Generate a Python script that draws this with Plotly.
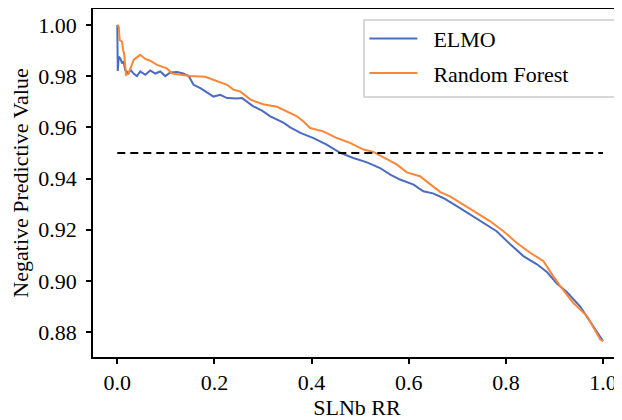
"""Negative predictive value vs SLNb RR for ELMO and Random Forest."""

import plotly.graph_objects as go

# ELMO curve
elmo_x = [0.000, 0.001, 0.003, 0.006, 0.010, 0.013, 0.016, 0.023, 0.027, 0.0335,
          0.0405, 0.0473, 0.0576, 0.0679, 0.0782, 0.0885, 0.0988, 0.109, 0.123, 0.136,
          0.147, 0.157, 0.171, 0.185, 0.198, 0.212, 0.226, 0.246, 0.257, 0.280,
          0.298, 0.315, 0.342, 0.356, 0.377, 0.404, 0.431, 0.459, 0.486, 0.514,
          0.541, 0.562, 0.582, 0.610, 0.630, 0.650, 0.671, 0.699, 0.726, 0.754,
          0.781, 0.809, 0.836, 0.864, 0.885, 0.905, 0.926, 0.953, 0.979, 0.994, 1.000]
elmo_y = [1.000, 0.982, 0.9876, 0.987, 0.985, 0.9857, 0.9825, 0.981, 0.9825, 0.981,
          0.980, 0.9818, 0.9805, 0.9822, 0.981, 0.9818, 0.980, 0.9814, 0.9816, 0.981,
          0.980, 0.9766, 0.9753, 0.9734, 0.972, 0.9727, 0.9714, 0.9712, 0.9714, 0.9682,
          0.9665, 0.9643, 0.9618, 0.960, 0.9578, 0.9558, 0.9532, 0.950, 0.948, 0.9463,
          0.9441, 0.9415, 0.9396, 0.9376, 0.935, 0.9342, 0.9324, 0.9292, 0.926, 0.9227,
          0.9194, 0.9143, 0.9097, 0.9065, 0.9034, 0.899, 0.8956, 0.890, 0.8825, 0.878, 0.8765]

# Random Forest curve
rf_x = [0.000, 0.003, 0.005, 0.010, 0.012, 0.014, 0.018, 0.023, 0.034, 0.0473,
        0.0576, 0.0679, 0.0817, 0.102, 0.113, 0.130, 0.150, 0.181, 0.205, 0.226,
        0.239, 0.253, 0.274, 0.300, 0.329, 0.350, 0.370, 0.385, 0.397, 0.424,
        0.452, 0.479, 0.507, 0.527, 0.555, 0.576, 0.596, 0.623, 0.644, 0.665,
        0.685, 0.713, 0.740, 0.767, 0.795, 0.822, 0.850, 0.877, 0.897, 0.912,
        0.938, 0.967, 0.994, 1.000]
rf_y = [1.000, 0.9993, 0.994, 0.9935, 0.990, 0.989, 0.9805, 0.981, 0.9864, 0.9883,
        0.9867, 0.986, 0.9844, 0.983, 0.981, 0.9805, 0.980, 0.9797, 0.978, 0.9766,
        0.9747, 0.974, 0.9708, 0.969, 0.968, 0.966, 0.9643, 0.962, 0.9597, 0.9584,
        0.9558, 0.9539, 0.9513, 0.9504, 0.9474, 0.9454, 0.9424, 0.9409, 0.9378, 0.9347,
        0.933, 0.9298, 0.9266, 0.9234, 0.9194, 0.9149, 0.911, 0.9078, 0.902, 0.898,
        0.8916, 0.8863, 0.8772, 0.8765]

# target NPV line
target_x = [0.0, 1.0]
target_y = [0.95, 0.95]

x_ticks = [0.0, 0.2, 0.4, 0.6, 0.8, 1.0]
y_ticks = [0.88, 0.90, 0.92, 0.94, 0.96, 0.98, 1.00]

FONT = "Liberation Serif, Times New Roman, serif"
FS = 22
GAP = "\u2002"  # a bit more room between legend line and label

fig = go.Figure()
fig.add_trace(go.Scatter(
    x=elmo_x, y=elmo_y, mode="lines", name=GAP + "ELMO",
    line=dict(color="#4a6cc0", width=2), legendgroup="a",
))
fig.add_trace(go.Scatter(
    x=rf_x, y=rf_y, mode="lines", name=GAP + "Random Forest",
    line=dict(color="#fa8638", width=2), legendgroup="b",
))
fig.add_trace(go.Scatter(
    x=target_x, y=target_y, mode="lines", showlegend=False,
    line=dict(color="black", width=2, dash="8px,5px"),
))

axis_common = dict(
    showline=True, linecolor="black", linewidth=1.5,
    ticks="outside", ticklen=5, tickwidth=1.5, tickcolor="black",
    showgrid=False, zeroline=False, automargin=False,
    tickfont=dict(family=FONT, size=FS, color="black"),
)

# legend frame drawn as a shape so it can be wider than plotly's own box
fig.add_shape(
    type="rect", xref="paper", yref="paper",
    x0=0.5133, x1=0.9886, y0=0.7471, y1=0.9684,
    line=dict(color="#cccccc", width=1.5), fillcolor="white", layer="above",
)

# the page body adds an 8px offset, so the figure is 8px smaller
fig.update_layout(
    width=614, height=412,
    margin=dict(l=85, r=1, t=1, b=63),
    paper_bgcolor="white", plot_bgcolor="white",
    font=dict(family=FONT, color="black"),
    xaxis=dict(
        range=[-0.05, 1.037], tickvals=x_ticks, tickformat=".1f", mirror=True,
        title=dict(text="SLNb RR", font=dict(family=FONT, size=FS), standoff=4),
        **axis_common,
    ),
    yaxis=dict(
        range=[0.8703, 1.0062], tickvals=y_ticks, tickformat=".2f",
        ticklabelstandoff=5,
        title=dict(text="Negative Predictive Value", font=dict(family=FONT, size=FS), standoff=10),
        **axis_common,
    ),
    legend=dict(
        x=0.514, y=0.975, xanchor="left", yanchor="top",
        bgcolor="rgba(0,0,0,0)", borderwidth=0,
        font=dict(family=FONT, size=FS, color="black"),
        traceorder="grouped", tracegroupgap=3,
        itemwidth=48,
    ),
)

fig.write_html("out.html")
